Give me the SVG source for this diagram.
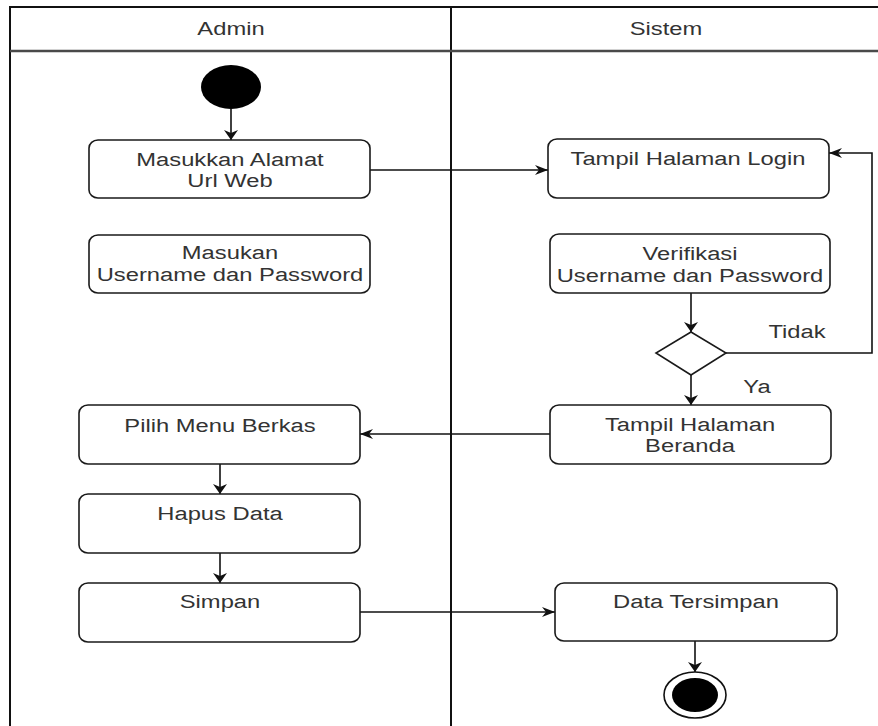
<svg xmlns="http://www.w3.org/2000/svg" width="878" height="726" viewBox="0 0 878 726">
<style>
.frame{stroke:#111;stroke-width:2;fill:none}
.hdr{stroke:#4a4a4a;stroke-width:2.5;fill:none}
.box{fill:#fff;stroke:#1a1a1a;stroke-width:1.6}
.lbl{font-family:"Liberation Sans",Arial,sans-serif;font-size:18px;fill:#333;text-anchor:middle}
.conn{stroke:#111;stroke-width:1.6;fill:none}
</style>
<defs>
<marker id="av" viewBox="0 0 10 14" markerWidth="10" markerHeight="14" refX="10" refY="7" orient="auto" markerUnits="userSpaceOnUse">
<path d="M0,0 L10,7 L0,14 L3,7 z" fill="#111"/>
</marker>
<marker id="ah" viewBox="0 0 13 10" markerWidth="13" markerHeight="10" refX="13" refY="5" orient="auto" markerUnits="userSpaceOnUse">
<path d="M0,0 L13,5 L0,10 L4,5 z" fill="#111"/>
</marker>
</defs>
<rect width="878" height="726" fill="#fff"/>
<g id="lanes">
<path class="frame" d="M10,726 L10,7 L878,7"/>
<path class="frame" d="M451,7 L451,726"/>
<path class="hdr" d="M10,51 L878,51"/>
<text class="lbl" transform="translate(231,35) scale(1.32,1)">Admin</text>
<text class="lbl" transform="translate(666,35) scale(1.32,1)">Sistem</text>
</g>
<g id="connectors">
<path class="conn" d="M231,109 L231,140" marker-end="url(#av)"/>
<path class="conn" d="M370,170 L548,170" marker-end="url(#ah)"/>
<path class="conn" d="M691,293 L691,332" marker-end="url(#av)"/>
<path class="conn" d="M726,353 L872,353 L872,153 L829,153" marker-end="url(#ah)"/>
<path class="conn" d="M691,375 L691,405" marker-end="url(#av)"/>
<path class="conn" d="M550,434 L360,434" marker-end="url(#ah)"/>
<path class="conn" d="M220,464 L220,494" marker-end="url(#av)"/>
<path class="conn" d="M220,553 L220,583" marker-end="url(#av)"/>
<path class="conn" d="M360,612 L555,612" marker-end="url(#ah)"/>
<path class="conn" d="M695,641 L695,672" marker-end="url(#av)"/>
<text class="lbl" transform="translate(797,338) scale(1.32,1)">Tidak</text>
<text class="lbl" transform="translate(757,393) scale(1.32,1)">Ya</text>
</g>
<g id="start">
<ellipse cx="231" cy="87" rx="30" ry="22" fill="#000"/>
</g>
<g id="masukkan-url">
<rect class="box" x="89" y="140" width="281" height="58" rx="9" ry="8"/>
<text class="lbl" transform="translate(230,166) scale(1.32,1)">Masukkan Alamat</text>
<text class="lbl" transform="translate(230,187) scale(1.32,1)">Url Web</text>
</g>
<g id="masukan-user">
<rect class="box" x="89" y="235" width="281" height="58" rx="9" ry="8"/>
<text class="lbl" transform="translate(230,259) scale(1.32,1)">Masukan</text>
<text class="lbl" transform="translate(230,281) scale(1.32,1)">Username dan Password</text>
</g>
<g id="login">
<rect class="box" x="548" y="139" width="281" height="59" rx="9" ry="8"/>
<text class="lbl" transform="translate(688,165) scale(1.32,1)">Tampil Halaman Login</text>
</g>
<g id="verifikasi">
<rect class="box" x="550" y="234" width="280" height="59" rx="9" ry="8"/>
<text class="lbl" transform="translate(690,260) scale(1.32,1)">Verifikasi</text>
<text class="lbl" transform="translate(690,282) scale(1.32,1)">Username dan Password</text>
</g>
<g id="decision">
<polygon class="box" points="691,332 726,353 691,375 656,353"/>
</g>
<g id="beranda">
<rect class="box" x="550" y="405" width="281" height="59" rx="9" ry="8"/>
<text class="lbl" transform="translate(690,431) scale(1.32,1)">Tampil Halaman</text>
<text class="lbl" transform="translate(690,452) scale(1.32,1)">Beranda</text>
</g>
<g id="pilih-menu">
<rect class="box" x="79" y="405" width="281" height="59" rx="9" ry="8"/>
<text class="lbl" transform="translate(220,432) scale(1.32,1)">Pilih Menu Berkas</text>
</g>
<g id="hapus">
<rect class="box" x="79" y="494" width="281" height="59" rx="9" ry="8"/>
<text class="lbl" transform="translate(220,520) scale(1.32,1)">Hapus Data</text>
</g>
<g id="simpan">
<rect class="box" x="79" y="583" width="281" height="59" rx="9" ry="8"/>
<text class="lbl" transform="translate(220,608) scale(1.32,1)">Simpan</text>
</g>
<g id="tersimpan">
<rect class="box" x="555" y="583" width="282" height="58" rx="9" ry="8"/>
<text class="lbl" transform="translate(696,608) scale(1.32,1)">Data Tersimpan</text>
</g>
<g id="end">
<ellipse cx="695" cy="695" rx="31" ry="23" fill="#fff" stroke="#111" stroke-width="1.6"/>
<ellipse cx="695" cy="695" rx="23" ry="17" fill="#000"/>
</g>
</svg>
